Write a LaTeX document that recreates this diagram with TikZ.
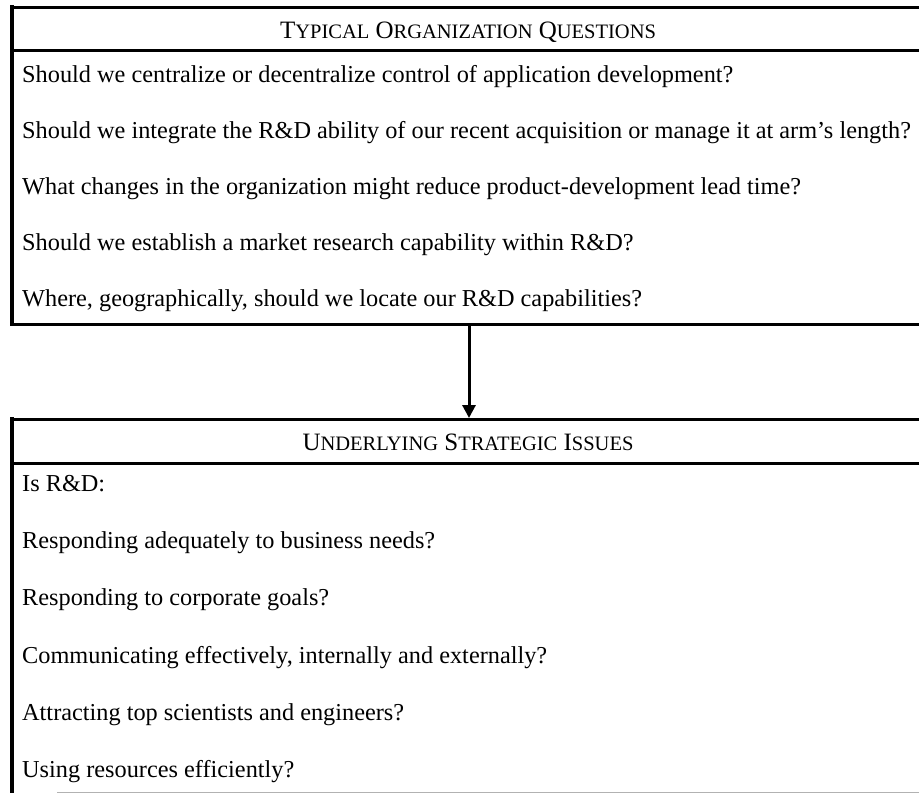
\documentclass[tikz,border=0pt]{standalone}
\usepackage{fontspec}
\setmainfont{Liberation Serif}
\usetikzlibrary{arrows.meta}
\newcommand\smc[1]{{\fontsize{20.5}{22}\selectfont #1}}
\begin{document}
\begin{tikzpicture}[x=1pt,y=-1pt,
  rowtext/.style={anchor=base west, inner sep=0pt, font=\fontsize{24.3}{26}\selectfont},
  headtext/.style={anchor=base, inner sep=0pt, font=\fontsize{25}{27}\selectfont},
  rule/.style={line width=3pt},
  sideedge/.style={line width=4.5pt},
  faint/.style={line width=1pt, black!30},
  link/.style={line width=3pt, -{Triangle[length=13pt,width=13pt]}}]
\useasboundingbox (0,0) rectangle (919,793);
\fill[white] (0,0) rectangle (919,793);
% top box
\draw[rule] (10,7) -- (919,7);
\draw[rule] (10,50) -- (919,50);
\draw[rule] (10,324) -- (919,324);
\draw[sideedge] (12,5) -- (12,326);
\node[headtext] (h1) at (468,38) {T\smc{YPICAL} O\smc{RGANIZATION} Q\smc{UESTIONS}};
\node[rowtext] (q1) at (22,82) {Should we centralize or decentralize control of application development?};
\node[rowtext] (q2) at (22,138) {Should we integrate the R\&D ability of our recent acquisition or manage it at arm’s length?};
\node[rowtext] (q3) at (22,194) {What changes in the organization might reduce product-development lead time?};
\node[rowtext] (q4) at (22,250) {Should we establish a market research capability within R\&D?};
\node[rowtext] (q5) at (22,306) {Where, geographically, should we locate our R\&D capabilities?};
% bottom box
\draw[rule] (10,419) -- (919,419);
\draw[rule] (10,463) -- (919,463);
\draw[sideedge] (12,417) -- (12,793);
\draw[faint] (57,792) -- (919,792);
\node[headtext] (h2) at (468,450) {U\smc{NDERLYING} S\smc{TRATEGIC} I\smc{SSUES}};
\node[rowtext] (s0) at (22,491) {Is R\&D:};
\node[rowtext] (s1) at (22,548) {Responding adequately to business needs?};
\node[rowtext] (s2) at (22,605) {Responding to corporate goals?};
\node[rowtext] (s3) at (22,663) {Communicating effectively, internally and externally?};
\node[rowtext] (s4) at (22,720) {Attracting top scientists and engineers?};
\node[rowtext] (s5) at (22,777) {Using resources efficiently?};
% connector
\coordinate (topout) at (469,324);
\coordinate (botin) at (469,418);
\draw[link] (topout) -- (botin);
\end{tikzpicture}
\end{document}
